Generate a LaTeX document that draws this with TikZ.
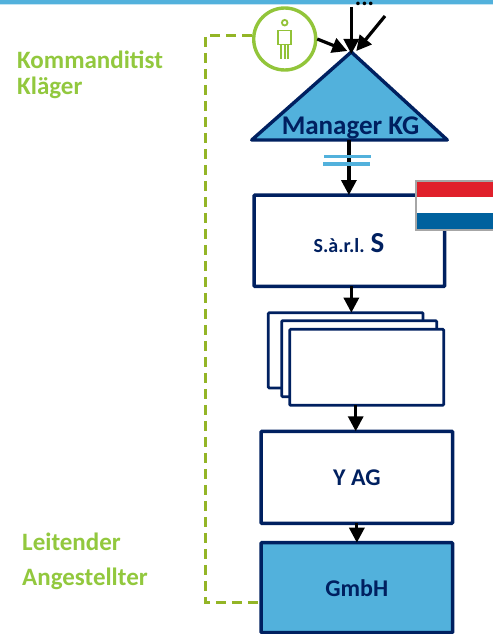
\documentclass[tikz,border=0pt]{standalone}
\usepackage{fontspec}
\setmainfont{Carlito}
\usetikzlibrary{arrows.meta}
\definecolor{navy}{HTML}{002060}
\definecolor{sky}{HTML}{52B1DC}
\definecolor{lime}{HTML}{92C83E}
\definecolor{olive}{HTML}{93B526}
\definecolor{flagred}{HTML}{E0202B}
\definecolor{flagblue}{HTML}{00619E}
\tikzset{
  box/.style={draw=navy,line width=3.5pt,rounded corners=1pt,fill=white,inner sep=0pt,outer sep=0pt,font=\bfseries\fontsize{24}{28}\selectfont,text=navy},
  thinbox/.style={box,line width=2.8pt},
  link/.style={line width=3.2pt,draw=black,-{Triangle[length=15pt,width=15pt]},shorten >=0pt},
  legal/.style={olive,line width=3.2pt,dash pattern=on 10pt off 6pt},
  lab/.style={anchor=west,inner sep=0pt,text=lime,font=\bfseries\fontsize{25}{28}\selectfont},
  bar/.style={draw=sky,line width=3.5pt},
}
\begin{document}
\begin{tikzpicture}[x=1pt,y=-1pt]
\useasboundingbox (0,0) rectangle (493,634);
\fill[sky] (0,0) rectangle (493,4);
\fill[sky!35] (0,4) rectangle (493,5);
% coordinates
\coordinate (apex) at (351.3,52);
\coordinate (bl) at (251.7,140);
\coordinate (br) at (447.3,140);
\coordinate (topin) at (351.3,7);
\coordinate (topright) at (385,16);
\coordinate (elbowtop) at (205.5,35.5);
\coordinate (elbowbot) at (205.5,602.5);
\coordinate (barA) at (324,156.5);
\coordinate (barAe) at (371,156.5);
\coordinate (barB) at (323.3,164);
\coordinate (barBe) at (370.3,164);
% triangle
\filldraw[fill=sky,draw=navy,line width=3.4pt,line join=round] (apex) -- (br) -- (bl) -- cycle;
\node[inner sep=0pt,text=navy,font=\bfseries\fontsize{27}{30}\selectfont] (mgr) at (350.5,128) {Manager KG};
% boxes
\node[box,minimum width=190.7pt,minimum height=91.3pt] (sarl) at (349.35,240.7) {};
\node[inner sep=0pt,text=navy,font=\bfseries] (sarltext) at (349,243) {\fontsize{20}{24}\selectfont S.à.r.l. \fontsize{29}{30}\selectfont S};
\node[thinbox,minimum width=154.7pt,minimum height=75.3pt] (stackA) at (345.65,350.35) {};
\node[thinbox,minimum width=155pt,minimum height=76pt] (stackB) at (359.2,358.7) {};
\node[thinbox,minimum width=154pt,minimum height=76pt] (stackC) at (366.7,367.3) {};
\node[box,minimum width=191.7pt,minimum height=92pt] (yag) at (356.85,477.3) {Y AG};
\node[box,fill=sky,minimum width=191.7pt,minimum height=90pt] (gmbh) at (356.85,587.7) {GmbH};
% flag
\fill[flagred] (416,181) rectangle (493,197);
\fill[white] (416,197) rectangle (493,213);
\fill[flagblue] (416,213) rectangle (493,230);
\draw[black!35,line width=1.6pt] (493,181) -- (416,181) -- (416,230) -- (493,230);
% person
\node[circle,draw=lime!85!olive,line width=3.4pt,fill=white,minimum size=62pt,inner sep=0pt,outer sep=1.5pt] (person) at (284.7,39) {};
\begin{scope}[draw=lime!70!olive,line width=1.8pt]
\draw (284.7,22.7) circle (2.8);
\draw (278.3,30.5) rectangle (291,44.5);
\draw (281,44.5) -- (281,59) (288,44.5) -- (288,59) (284.6,44.5) -- (284.6,59);
\end{scope}
% legal link
\draw[legal] (person.west |- elbowtop) -- (elbowtop) -- (elbowbot) -- (gmbh.west |- elbowbot);
% arrows
\draw[link] (topin) -- ([yshift=-2pt]apex);
\draw[link] (topright) -- ([xshift=5pt,yshift=1pt]apex);
\draw[link] (person.east) -- ([xshift=-4pt,yshift=1pt]apex);
\node[inner sep=0pt,text=black,font=\bfseries\fontsize{24}{24}\selectfont] (dots) at (364.5,3.5) {...};
\draw[link] ([xshift=-1.6pt]mgr.south |- bl) -- ([xshift=-1.6pt]mgr.south |- sarl.north);
\draw[bar] (barA) -- (barAe);
\draw[bar] (barB) -- (barBe);
\draw[link] ([xshift=2pt]sarl.south) -- ([xshift=2pt]sarl.south |- stackA.north);
\draw[link] ([xshift=-11pt]stackC.south) -- ([xshift=-11pt]stackC.south |- yag.north);
\draw[link] (yag.south) -- (gmbh.north);
% labels
\node[lab] (komm) at (17,60) {Kommanditist};
\node[lab] (klaeger) at (17,88) {Kläger};
\node[lab] (leit) at (22,542) {Leitender};
\node[lab] (ang) at (22,579) {Angestellter};
\end{tikzpicture}
\end{document}
